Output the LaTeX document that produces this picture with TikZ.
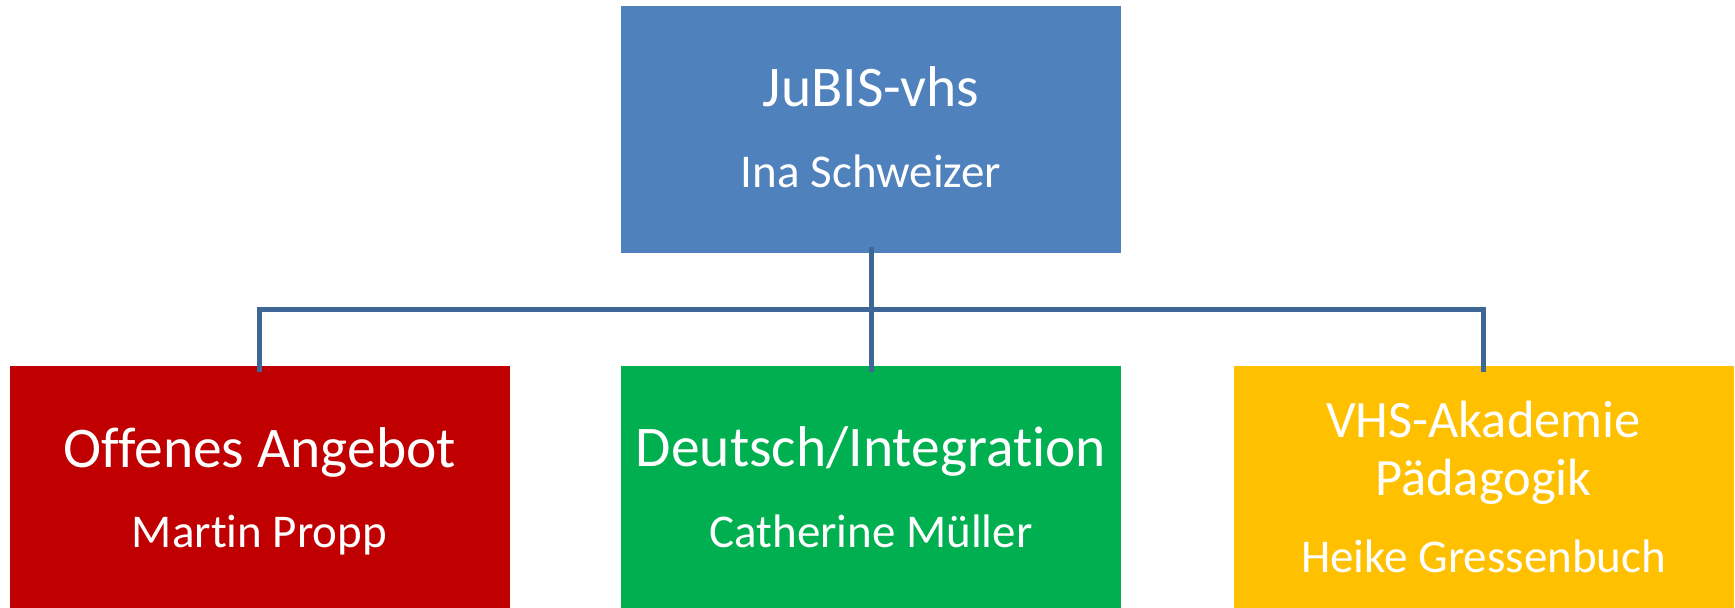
\documentclass[tikz,border=0pt]{standalone}
\usepackage{fontspec}
\setmainfont[Ligatures=NoCommon]{Carlito}
\definecolor{topblue}{HTML}{4F81BD}
\definecolor{boxred}{HTML}{C00000}
\definecolor{boxgreen}{HTML}{00B050}
\definecolor{boxyellow}{HTML}{FFC000}
\definecolor{linkblue}{HTML}{3E6697}
\tikzset{
  orgbox/.style={rectangle, draw=none, minimum width=200pt, minimum height=97.5pt, inner sep=0pt, outer sep=0pt},
  ttltext/.style={text=white, anchor=base, inner sep=0pt, font=\fontsize{23}{27}\selectfont},
  subtext/.style={text=white, anchor=base, inner sep=0pt, font=\fontsize{21}{25}\selectfont},
  nametext/.style={text=white, anchor=base, inner sep=0pt, font=\fontsize{18.8}{22}\selectfont},
  link/.style={draw=linkblue, line width=2pt, line join=miter}
}
\begin{document}
\begin{tikzpicture}[x=1pt,y=-1pt]
\useasboundingbox (0,0) rectangle (694,243.2);
% boxes
\node[orgbox, fill=topblue, minimum height=98.8pt] (top) at (348.4,51.8) {};
\node[orgbox, fill=boxred] (red) at (103.8,194.95) {};
\node[orgbox, fill=boxgreen] (green) at (348.4,194.95) {};
\node[orgbox, fill=boxyellow] (yellow) at (593.4,194.95) {};
% texts
\node[ttltext] (t1) at (348.4,42.8) {JuBIS-vhs};
\node[nametext] (t2) at (348.4,75.2) {Ina Schweizer};
\node[ttltext] (r1) at (103.8,186.8) {Offenes Angebot};
\node[nametext] (r2) at (103.8,218.8) {Martin Propp};
\node[ttltext] (g1) at (348.4,186.4) {Deutsch/Integration};
\node[nametext] (g2) at (348.4,218.8) {Catherine Müller};
\node[subtext] (y1) at (593.4,174.8) {VHS-Akademie};
\node[subtext] (y2) at (593.4,198) {Pädagogik};
\node[nametext] (y3) at (593.4,228.8) {Heike Gressenbuch};
% connectors
\coordinate (busL) at (103.8,123.6);
\coordinate (busR) at (593.4,123.6);
\draw[link] ([yshift=2.4pt]top.south) -- ([yshift=-2.4pt]green.north);
\draw[link] ([yshift=-2.4pt]red.north) -- (busL) -- (busR) -- ([yshift=-2.4pt]yellow.north);
\end{tikzpicture}
\end{document}
